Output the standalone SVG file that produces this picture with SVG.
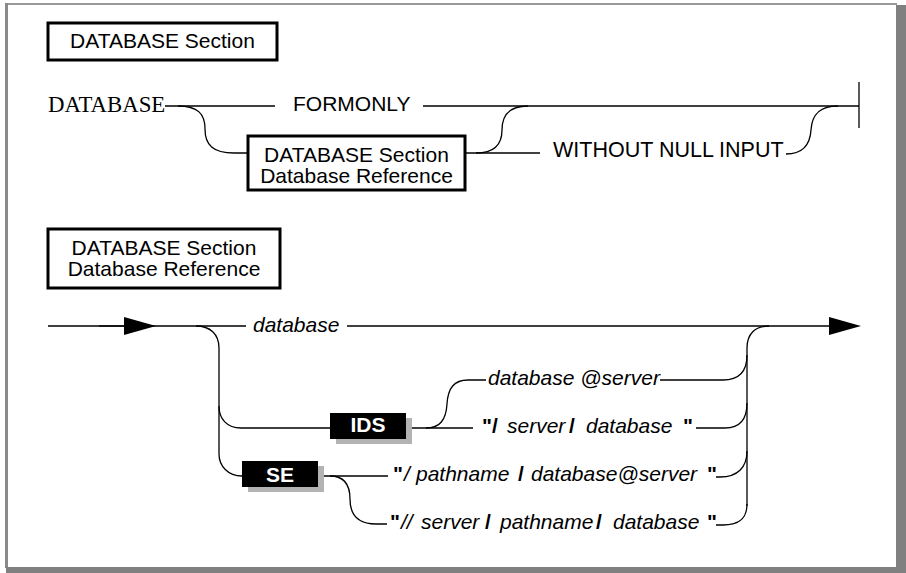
<svg xmlns="http://www.w3.org/2000/svg" width="906" height="573" viewBox="0 0 906 573">
<style>
.t{font-family:"Liberation Sans",Arial,sans-serif;font-size:21px;fill:#000}
.serif{font-family:"Liberation Serif","Times New Roman",serif;font-size:22.8px;fill:#000}
.it{font-style:italic}
.b{font-weight:bold;font-style:normal}
.wb{font-weight:bold;fill:#fff}
.box{fill:#fff;stroke:#000;stroke-width:3}
.kw{fill:#000}
.sh{fill:#b3b3b3}
.ln{fill:none;stroke:#000;stroke-width:1.3}
.ah{fill:#000}
</style>
<rect x="0" y="0" width="906" height="573" fill="#fff"/>
<g id="frame">
<line x1="6" y1="4" x2="897" y2="4" stroke="#999" stroke-width="2"/>
<line x1="6.5" y1="3" x2="6.5" y2="568" stroke="#8a8a8a" stroke-width="3"/>
<rect x="896" y="5" width="10" height="568" fill="#808080"/>
<rect x="6" y="567" width="900" height="6" fill="#808080"/>
</g>
<g id="connectors">
<path class="ln" d="M165,106 L275,106 M423,106 L859,106"/>
<path class="ln" d="M178,106 C198,106 205,114 205,129 C205,145 213,153 234,153 L248,153"/>
<path class="ln" d="M466,153 L540,153"/>
<path class="ln" d="M476,153 C494,153 502,145 502,130 C502,114 510,106 528,106"/>
<path class="ln" d="M786,154 C802,154 810,146 811,130 C812,114 820,106 838,106"/>
<path class="ln" stroke-width="1.6" d="M859,82 L859,128"/>
<path class="ln" d="M48,326 L246,326 M347,326 L830,326"/>
<path class="ln" stroke-width="2.6" d="M99,326 L126,326"/>
<polygon class="ah" points="124,317 156,326 124,335"/>
<polygon class="ah" points="829,317 861,326 829,335"/>
<path class="ln" d="M196,326 C210,326 219,334 219,348 L219,454 C219,466 228,476 242,476"/>
<path class="ln" d="M219,406 C219,419 227,428 241,428 L330,428"/>
<path class="ln" d="M412,428 L473,428"/>
<path class="ln" d="M426,428 C440,428 446,420 447,404 C448,388 454,380 468,380 L486,380"/>
<path class="ln" d="M660,380 L723,380 C738,380 747,372 747,355"/>
<path class="ln" d="M769,326 C755,326 747,334 747,348 L747,506"/>
<path class="ln" d="M696,428 L725,428 C740,428 747,420 747,403"/>
<path class="ln" d="M716,477 L720,477 C738,477 747,467 747,451"/>
<path class="ln" d="M716,525 L723,525 C740,525 747,518 747,504"/>
<path class="ln" d="M324,476 L388,476"/>
<path class="ln" d="M330,476 C344,476 350,484 350,499 C350,515 358,524 376,524 L387,524"/>
</g>
<g id="title1">
<rect class="box" x="48" y="23" width="229" height="37"/>
<text class="t" x="162.5" y="48" text-anchor="middle">DATABASE Section</text>
</g>
<g id="database-kw">
<text class="serif" x="48" y="112">DATABASE</text>
</g>
<g id="formonly">
<text class="t" x="293" y="111">FORMONLY</text>
</g>
<g id="dbref-box1">
<rect class="box" x="248" y="136" width="217" height="54"/>
<text class="t" x="356.5" y="161.5" text-anchor="middle">DATABASE Section</text>
<text class="t" x="356.5" y="183" text-anchor="middle">Database Reference</text>
</g>
<g id="without-null">
<text class="t" x="553" y="157" style="font-size:21.5px">WITHOUT NULL INPUT</text>
</g>
<g id="title2">
<rect class="box" x="48" y="229" width="232" height="59"/>
<text class="t" x="164" y="255" text-anchor="middle">DATABASE Section</text>
<text class="t" x="164" y="276" text-anchor="middle">Database Reference</text>
</g>
<g id="database-var">
<text class="t it" x="253" y="332">database</text>
</g>
<g id="ids">
<rect class="sh" x="336" y="418" width="76" height="26"/>
<rect class="kw" x="330" y="413" width="76" height="26"/>
<text class="t wb" x="368" y="432" text-anchor="middle">IDS</text>
</g>
<g id="se">
<rect class="sh" x="248" y="466" width="76" height="26"/>
<rect class="kw" x="242" y="461" width="76" height="26"/>
<text class="t wb" x="280" y="482" text-anchor="middle">SE</text>
</g>
<g id="row1">
<text class="t it" x="488" y="385">database @server</text>
</g>
<g id="row2">
<text class="t" y="433"><tspan class="b" x="482">"</tspan><tspan class="b" x="492">/</tspan><tspan class="it" x="507">server</tspan><tspan class="b" x="569">/</tspan><tspan class="it" x="586">database</tspan><tspan class="b" x="683">"</tspan></text>
</g>
<g id="row3">
<text class="t" y="481"><tspan class="b" x="393">"</tspan><tspan class="it" x="404">/</tspan><tspan class="it" x="416">pathname</tspan><tspan class="b" x="518">/</tspan><tspan class="it" x="531">database@server</tspan><tspan class="b" x="707">"</tspan></text>
</g>
<g id="row4">
<text class="t" y="529"><tspan class="b" x="390">"</tspan><tspan class="it" x="401">//</tspan><tspan class="it" x="421">server</tspan><tspan class="b" x="485">/</tspan><tspan class="it" x="500">pathname</tspan><tspan class="b" x="596">/</tspan><tspan class="it" x="613">database</tspan><tspan class="b" x="707">"</tspan></text>
</g>
</svg>
